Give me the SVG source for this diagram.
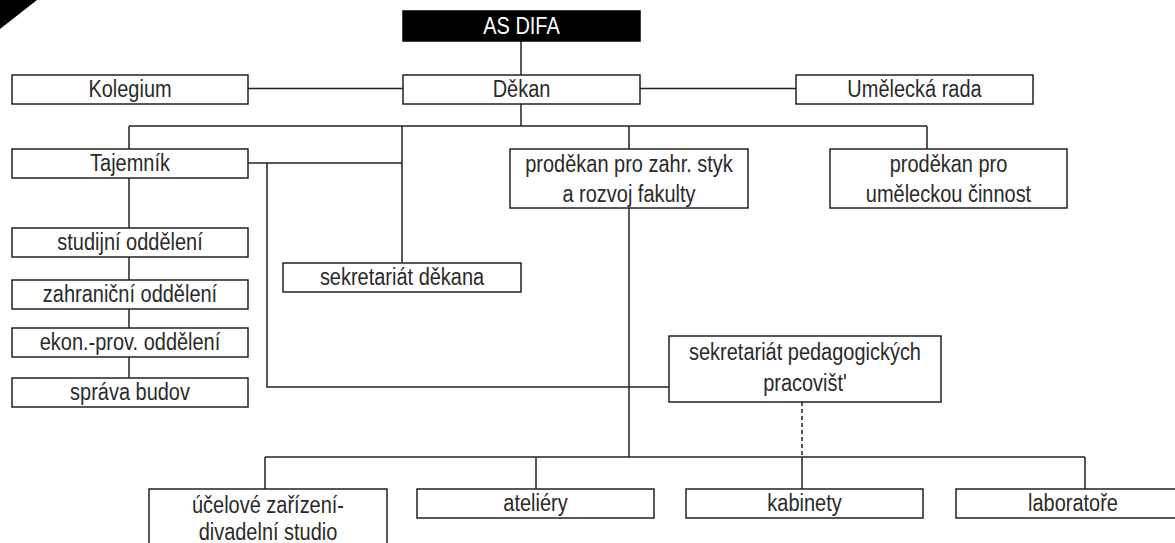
<svg xmlns="http://www.w3.org/2000/svg" width="1175" height="543" viewBox="0 0 1175 543">
<style>
.box{fill:#fff;stroke:#222;stroke-width:1.5}
.dark{fill:#000;stroke:#000;stroke-width:1.5}
text{font-family:"Liberation Sans",Arial,sans-serif;font-size:23.5px;fill:#2a2a2a;text-anchor:middle}
.w{fill:#fff}
.con path{fill:none;stroke:#222;stroke-width:1.5}
.con path.dash{stroke-dasharray:4 3}
</style>
<polygon points="0,0 37,0 0,29" fill="#000"/>
<g class="con" id="connectors">
<path d="M521,41 V75"/>
<path d="M248,88.5 H403"/>
<path d="M640,88.5 H796"/>
<path d="M521,104 V126"/>
<path d="M129,126 H927"/>
<path d="M129,126 V149"/>
<path d="M402,126 V263"/>
<path d="M629,126 V149"/>
<path d="M927,126 V149"/>
<path d="M129,178 V228"/>
<path d="M129,257 V280"/>
<path d="M129,309 V328"/>
<path d="M129,357 V378"/>
<path d="M248,163 H402"/>
<path d="M267,163 V387 H669"/>
<path d="M629,208 V457"/>
<path d="M265,457 H1085"/>
<path d="M265,457 V489"/>
<path d="M536,457 V489"/>
<path d="M802,457 V489"/>
<path d="M1085,457 V489"/>
<path class="dash" d="M802,402 V457"/>
</g>
<g id="as-difa"><rect class="dark" x="403" y="11" width="237" height="30"/><text class="w" transform="matrix(0.85 0 0 1 521.5 0)" y="34">AS DIFA</text></g>
<g id="kolegium"><rect class="box" x="12" y="75" width="236" height="29"/><text transform="matrix(0.85 0 0 1 130 0)" y="97">Kolegium</text></g>
<g id="dekan"><rect class="box" x="403" y="75" width="237" height="29"/><text transform="matrix(0.85 0 0 1 521.5 0)" y="97">Děkan</text></g>
<g id="umelecka-rada"><rect class="box" x="796" y="75" width="237" height="29"/><text transform="matrix(0.85 0 0 1 914.5 0)" y="97">Umělecká rada</text></g>
<g id="tajemnik"><rect class="box" x="12" y="149" width="236" height="29"/><text transform="matrix(0.85 0 0 1 130 0)" y="171">Tajemník</text></g>
<g id="prodekan-zahr"><rect class="box" x="510" y="149" width="238" height="59"/><text transform="matrix(0.85 0 0 1 629 0)" y="172">proděkan pro zahr. styk</text><text transform="matrix(0.85 0 0 1 629 0)" y="202">a rozvoj fakulty</text></g>
<g id="prodekan-um"><rect class="box" x="830" y="149" width="237" height="59"/><text transform="matrix(0.85 0 0 1 948.5 0)" y="172">proděkan pro</text><text transform="matrix(0.85 0 0 1 948.5 0)" y="202">uměleckou činnost</text></g>
<g id="studijni"><rect class="box" x="12" y="228" width="236" height="29"/><text transform="matrix(0.85 0 0 1 130 0)" y="250">studijní oddělení</text></g>
<g id="zahranicni"><rect class="box" x="12" y="280" width="236" height="29"/><text transform="matrix(0.85 0 0 1 130 0)" y="302">zahraniční oddělení</text></g>
<g id="ekon"><rect class="box" x="12" y="328" width="236" height="29"/><text transform="matrix(0.85 0 0 1 130 0)" y="350">ekon.-prov. oddělení</text></g>
<g id="sprava"><rect class="box" x="12" y="378" width="236" height="29"/><text transform="matrix(0.85 0 0 1 130 0)" y="400">správa budov</text></g>
<g id="sekretariat-dekana"><rect class="box" x="283" y="263" width="238" height="29"/><text transform="matrix(0.85 0 0 1 402 0)" y="285">sekretariát děkana</text></g>
<g id="sekretariat-ped"><rect class="box" x="669" y="336" width="272" height="66"/><text transform="matrix(0.85 0 0 1 805 0)" y="360">sekretariát pedagogických</text><text transform="matrix(0.85 0 0 1 805 0)" y="391">pracovišt'</text></g>
<g id="ucelove"><rect class="box" x="149" y="489" width="238" height="80"/><text transform="matrix(0.85 0 0 1 268 0)" y="513">účelové zařízení-</text><text transform="matrix(0.85 0 0 1 268 0)" y="540">divadelní studio</text></g>
<g id="ateliery"><rect class="box" x="417" y="489" width="237" height="29"/><text transform="matrix(0.85 0 0 1 535.5 0)" y="511">ateliéry</text></g>
<g id="kabinety"><rect class="box" x="686" y="489" width="237" height="29"/><text transform="matrix(0.85 0 0 1 804.5 0)" y="511">kabinety</text></g>
<g id="laboratore"><rect class="box" x="956" y="489" width="240" height="29"/><text transform="matrix(0.85 0 0 1 1073 0)" y="511">laboratoře</text></g>
</svg>
